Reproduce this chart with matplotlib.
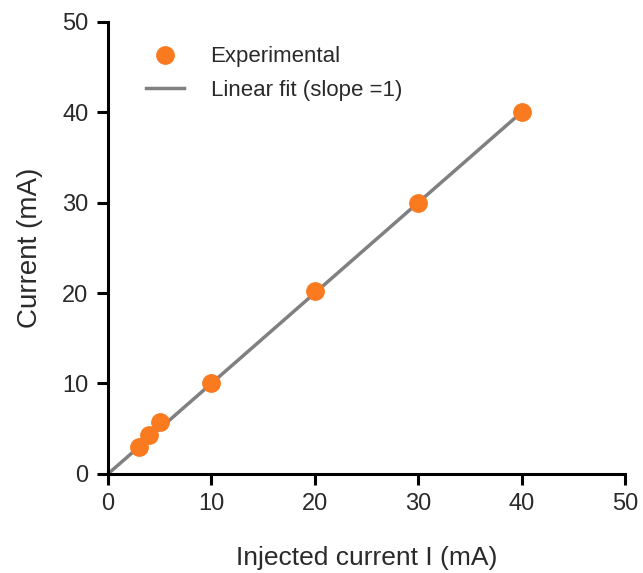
import matplotlib.pyplot as plt

plt.rcParams['font.family'] = ['Liberation Sans', 'DejaVu Sans']

# data
inj_current = [3, 4, 5, 10, 20, 30, 40]
meas_current = [3.0, 4.3, 5.7, 10.0, 20.2, 30.0, 40.0]
fit_x = [0, 40]
fit_y = [0, 40]
ticks = [0, 10, 20, 30, 40, 50]

txt_col = '#2a2a2a'

fig = plt.figure(figsize=(6.43, 5.73), dpi=100)
ax = fig.add_axes([0.168, 0.173, 0.804, 0.789])

ax.plot(fit_x, fit_y, color='#808080', lw=2.5, label='Linear fit (slope =1)', zorder=2)
ax.plot(inj_current, meas_current, 'o', color='#f97a1f', ms=12.5, mec='#f97a1f',
        label='Experimental', zorder=3)

ax.set_xlim(0, 50)
ax.set_ylim(0, 50)
ax.set_xticks(ticks)
ax.set_yticks(ticks)
ax.tick_params(labelsize=17, width=2.2, length=8, direction='out', color='black',
               labelcolor=txt_col, pad=6)

for s in ['top', 'right']:
    ax.spines[s].set_visible(False)
for s in ['left', 'bottom']:
    ax.spines[s].set_linewidth(2.2)

ax.set_xlabel('Injected current I (mA)', fontsize=19, color=txt_col, labelpad=22)
ax.set_ylabel('Current (mA)', fontsize=20, color=txt_col, labelpad=14)

h, l = ax.get_legend_handles_labels()
ax.legend(h[::-1], l[::-1], loc='upper left', bbox_to_anchor=(0.035, 0.99),
          frameon=False, fontsize=16, handlelength=1.7, handletextpad=1.2,
          labelspacing=0.55, labelcolor=txt_col)

fig.savefig('out.png', dpi=100)
